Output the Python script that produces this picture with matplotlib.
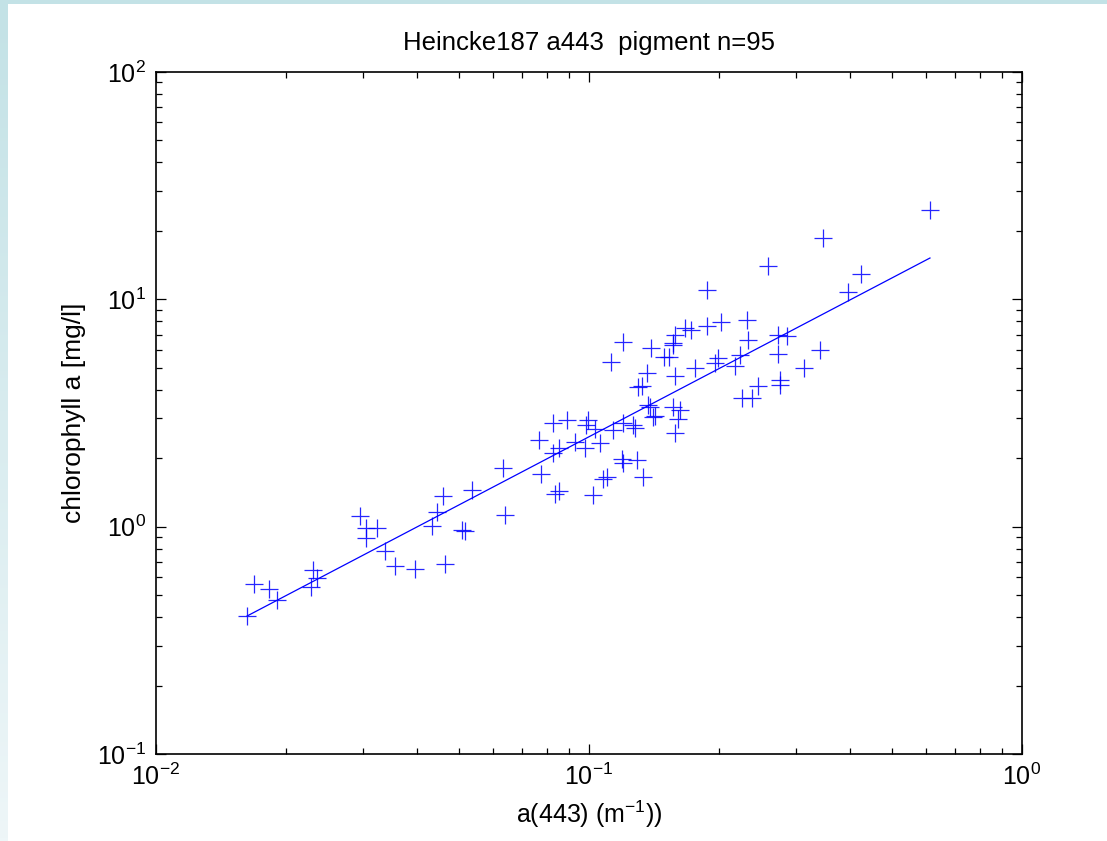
import numpy as np
import matplotlib
matplotlib.use('Agg')
import matplotlib.pyplot as plt
from matplotlib.ticker import LogLocator

plt.rcParams['font.family'] = ['Liberation Sans', 'DejaVu Sans']
plt.rcParams['mathtext.fontset'] = 'custom'
plt.rcParams['mathtext.rm'] = 'Liberation Sans'
plt.rcParams['mathtext.default'] = 'regular'

# a(443) [1/m] and chlorophyll a [mg/l]
a443 = [0.01623, 0.01684, 0.01824, 0.01903, 0.02305, 0.02354, 0.0228, 0.0296,
        0.03055, 0.0324, 0.03055, 0.0338, 0.03565, 0.03965, 0.0465, 0.046,
        0.04457, 0.0434, 0.05367, 0.0509, 0.0517, 0.0633, 0.064, 0.0766,
        0.0775, 0.0826, 0.089, 0.0853, 0.0826, 0.0835, 0.0853, 0.0928,
        0.0979, 0.0995, 0.0985, 0.1032, 0.106, 0.1021, 0.1077, 0.110,
        0.1136, 0.1198, 0.1192, 0.1198, 0.1277, 0.1264, 0.1291, 0.1333,
        0.1326, 0.1369, 0.1405, 0.1198, 0.1124, 0.1391, 0.149, 0.153,
        0.1563, 0.1666, 0.172, 0.1361, 0.1298, 0.158, 0.1757, 0.2317,
        0.2017, 0.1873, 0.158, 0.1563, 0.2329, 0.2732, 0.2866, 0.2732,
        0.3416, 0.3137, 0.2232, 0.2174, 0.1986, 0.1954, 0.2761, 0.2761,
        0.2456, 0.2256, 0.2379, 0.1383, 0.142, 0.1563, 0.1623, 0.1605,
        0.158, 0.1873, 0.259, 0.347, 0.613, 0.425, 0.3965]
chla = [0.4046, 0.5597, 0.532, 0.476, 0.645, 0.595, 0.543, 1.115,
        0.987, 0.987, 0.892, 0.782, 0.672, 0.652, 0.685, 1.365,
        1.161, 1.007, 1.45, 0.967, 0.957, 1.813, 1.126, 2.406,
        1.705, 2.858, 2.947, 2.219, 2.110, 1.393, 1.436, 2.358,
        2.219, 2.947, 2.80, 2.69, 2.334, 1.379, 1.621, 1.654,
        2.664, 2.858, 1.986, 1.906, 2.718, 2.80, 1.966, 1.654,
        4.159, 3.430, 3.038, 6.495, 5.304, 6.113, 5.579, 5.579,
        6.43, 7.485, 7.335, 4.745, 4.117, 4.603, 4.99, 8.118,
        7.955, 7.638, 6.972, 6.30, 6.627, 6.972, 6.902, 5.752,
        5.99, 4.99, 5.694, 5.093, 5.523, 5.251, 4.42, 4.202,
        4.159, 3.683, 3.683, 3.362, 3.069, 3.362, 3.262, 2.978,
        2.584, 11.0, 14.03, 18.63, 24.74, 12.94, 10.78]

# power law fit  chl = 10**fit_b * a**fit_m
fit_m = 0.9985
fit_b = 1.394

blue = '#0000ff'

fig = plt.figure(figsize=(11.07, 8.41), dpi=100)

# light blue frame strips of the page
left = fig.add_axes([0, 0, 8 / 1107, 1])
grad = np.linspace(0, 1, 256).reshape(-1, 1)
left.imshow(grad, aspect='auto', cmap=matplotlib.colors.LinearSegmentedColormap.from_list(
    'g', ['#c3e2e6', '#eef6f8']), origin='upper')
left.axis('off')
top = fig.add_axes([0, 1 - 4 / 841, 1, 4 / 841])
top.set_facecolor('#c3e2e6')
top.set_xticks([])
top.set_yticks([])
for s in top.spines.values():
    s.set_visible(False)

ax = fig.add_axes([156 / 1107, 1 - 754 / 841, (1022 - 156) / 1107, (754 - 72) / 841])
ax.plot(a443, chla, '+', color=blue, markersize=12.5, markeredgewidth=0.9, alpha=0.85)
xf = np.array([min(a443), max(a443)])
ax.plot(xf, 10 ** fit_b * xf ** fit_m, '-', color=blue, linewidth=0.9)

ax.set_xscale('log')
ax.set_yscale('log')
ax.set_xlim(0.01, 1)
ax.set_ylim(0.1, 100)
ax.xaxis.set_minor_locator(LogLocator(subs=np.arange(2, 10)))
ax.yaxis.set_minor_locator(LogLocator(subs=np.arange(2, 10)))
ax.tick_params(which='both', direction='in', top=True, right=True, width=0.9)
ax.tick_params(which='major', length=7.5, labelsize=18, pad=7)
ax.tick_params(which='minor', length=4)
for s in ax.spines.values():
    s.set_linewidth(1.2)

ax.set_title('Heincke187 a443  pigment n=95', fontsize=18.5, pad=16)
ax.set_xlabel('a(443) (m$^{-1}$))', fontsize=18, labelpad=6)
ax.set_ylabel('chlorophyll a [mg/l]', fontsize=19, labelpad=8)

fig.savefig('out.png', dpi=100)
